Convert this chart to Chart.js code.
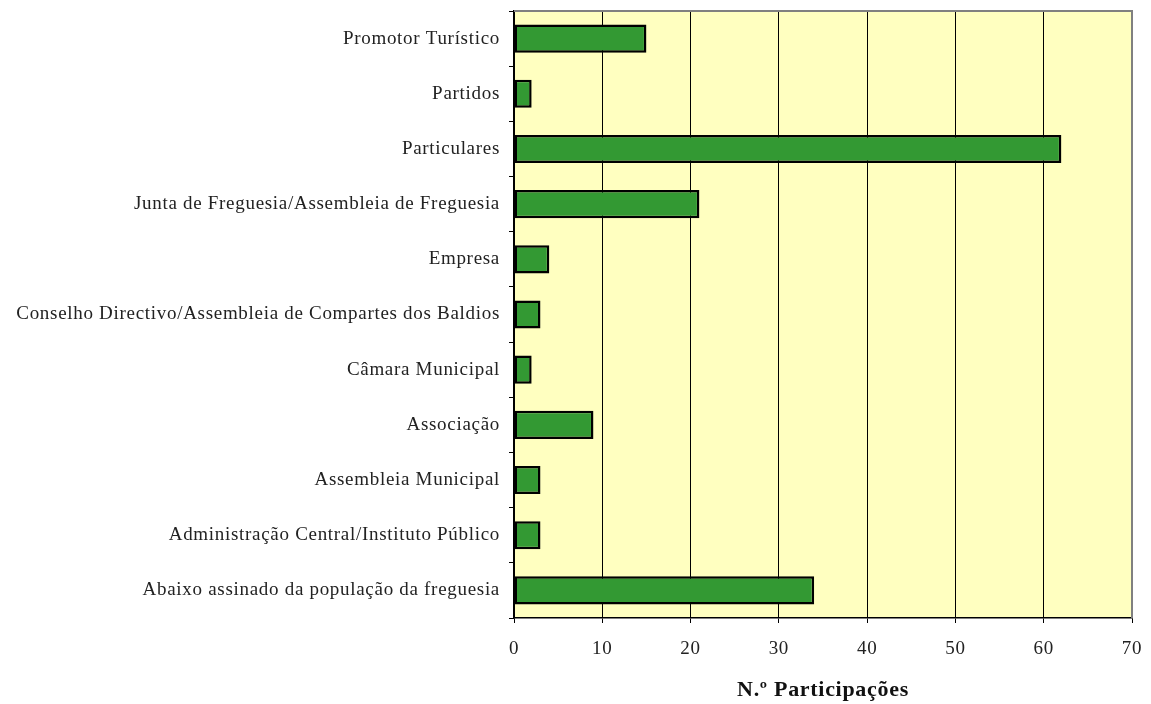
<!DOCTYPE html>
<html>
<head>
<meta charset="utf-8">
<script src="https://cdn.jsdelivr.net/npm/chart.js@4"></script>
<style>
  html, body { margin: 0; padding: 0; background: #fff; }
  #wrap { width: 1151px; height: 704px; }
</style>
</head>
<body>
<div id="wrap"><canvas id="barChart" width="1151" height="704"></canvas></div>
<script>
const categorias = [
    'Promotor Turístico',
    'Partidos',
    'Particulares',
    'Junta de Freguesia/Assembleia de Freguesia',
    'Empresa',
    'Conselho Directivo/Assembleia de Compartes dos Baldios',
    'Câmara Municipal',
    'Associação',
    'Assembleia Municipal',
    'Administração Central/Instituto Público',
    'Abaixo assinado da população da freguesia'
];
const participacoes = [15, 2, 62, 21, 4, 3, 2, 9, 3, 3, 34];
const xTicks = [0, 10, 20, 30, 40, 50, 60, 70];

const fontFamily = '"Liberation Serif", "Times New Roman", serif';

// fundo amarelo + moldura cinzenta (topo e direita)
const plotArea = {
    id: 'plotArea',
    beforeDraw(chart) {
        const {ctx, chartArea: a} = chart;
        ctx.letterSpacing = '0.7px'; // letra mais larga, tipo Garamond
        ctx.save();
        ctx.fillStyle = '#ffffc0';
        ctx.fillRect(a.left, a.top, a.right - a.left, a.bottom - a.top);
        ctx.restore();
    },
    afterDatasetsDraw(chart) {
        const {ctx, chartArea: a} = chart;
        ctx.save();
        ctx.strokeStyle = '#808080';
        ctx.lineWidth = 2;
        ctx.beginPath();
        ctx.moveTo(a.left, a.top);
        ctx.lineTo(a.right, a.top);
        ctx.lineTo(a.right, a.bottom);
        ctx.stroke();
        ctx.restore();
    },
    afterDraw(chart) {
        chart.ctx.letterSpacing = '0px';
    }
};

const ctx = document.getElementById('barChart').getContext('2d');
new Chart(ctx, {
    type: 'bar',
    data: {
        labels: categorias,
        datasets: [{
            label: 'N.º Participações',
            data: participacoes,
            backgroundColor: '#339933',
            borderColor: '#000000',
            borderWidth: 2.5,
            borderSkipped: false,
            barPercentage: 0.51,
            categoryPercentage: 1
        }]
    },
    options: {
        indexAxis: 'y',
        responsive: false,
        animation: false,
        layout: { padding: { top: 11, right: 19, left: 0, bottom: 0 } },
        plugins: {
            legend: { display: false },
            tooltip: { enabled: false }
        },
        scales: {
            x: {
                min: 0,
                max: 70,
                afterBuildTicks: (scale) => { scale.ticks = xTicks.map(v => ({value: v})); },
                afterFit: (scale) => {
                    scale.height = 86;
                    scale.paddingLeft = 0;
                    scale.paddingRight = 0;
                },
                grid: {
                    color: (c) => c.tick && c.tick.value === 70 ? '#808080' : '#000000',
                    lineWidth: 1,
                    tickLength: 5,
                    tickColor: '#000000'
                },
                border: { color: '#000000', width: 1.5 },
                ticks: {
                    color: '#222',
                    padding: 15,
                    font: { family: fontFamily, size: 19 }
                },
                title: {
                    display: true,
                    text: 'N.º Participações',
                    color: '#111',
                    padding: { top: 4, bottom: 0 },
                    font: { family: fontFamily, size: 22, weight: 'bold' }
                }
            },
            y: {
                afterFit: (scale) => {
                    scale.width = 514;
                    scale.paddingTop = 0;
                    scale.paddingBottom = 0;
                },
                grid: {
                    offset: true,
                    drawOnChartArea: false,
                    tickLength: 5,
                    color: '#000000'
                },
                border: { color: '#000000', width: 1.5 },
                ticks: {
                    color: '#222',
                    padding: 9,
                    font: { family: fontFamily, size: 19 }
                }
            }
        }
    },
    plugins: [plotArea]
});
</script>
</body>
</html>
